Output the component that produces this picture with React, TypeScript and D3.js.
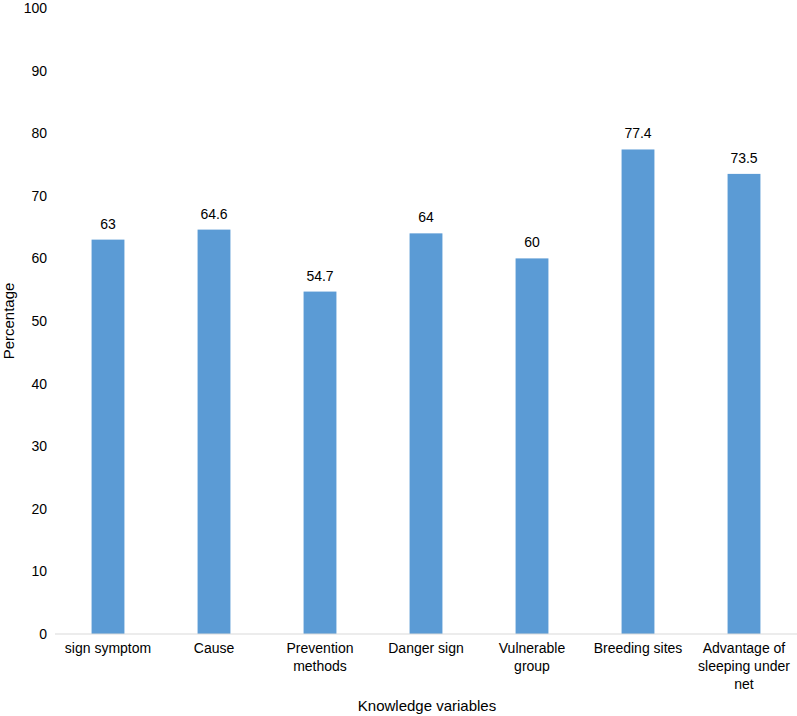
import React from "react";
import * as d3 from "d3";

const categories: string[][] = [
  ["sign symptom"],
  ["Cause"],
  ["Prevention", "methods"],
  ["Danger sign"],
  ["Vulnerable", "group"],
  ["Breeding sites"],
  ["Advantage of", "sleeping under", "net"],
];
const values: number[] = [63, 64.6, 54.7, 64, 60, 77.4, 73.5];
const yTicks: number[] = [0, 10, 20, 30, 40, 50, 60, 70, 80, 90, 100];

const W = 797;
const H = 716;
const FONT = "'Liberation Sans', Arial, sans-serif";

export default function App() {
  const x = d3
    .scaleBand<number>()
    .domain(values.map((_, i) => i))
    .range([55, 797])
    .paddingInner(0.69)
    .paddingOuter(0.345);
  const y = d3.scaleLinear().domain([0, 100]).range([634, 8]);

  return (
    <svg
      width={W}
      height={H}
      style={{ position: "absolute", left: 0, top: 0, background: "#fff" }}
      fontFamily={FONT}
    >
      {yTicks.map((t) => (
        <text
          key={t}
          x={47}
          y={y(t)}
          dy="0.35em"
          textAnchor="end"
          fontSize={14}
          fill="#000"
        >
          {t}
        </text>
      ))}
      {values.map((v, i) => (
        <rect
          key={i}
          x={x(i)}
          y={y(v)}
          width={x.bandwidth()}
          height={y(0) - y(v)}
          fill="#5B9BD5"
        />
      ))}
      {values.map((v, i) => (
        <text
          key={"v" + i}
          x={(x(i) as number) + x.bandwidth() / 2}
          y={y(v) - 11}
          textAnchor="middle"
          fontSize={14}
          fill="#000"
        >
          {v}
        </text>
      ))}
      <line x1={55} x2={797} y1={y(0)} y2={y(0)} stroke="#d9d9d9" strokeWidth={1} />
      {categories.map((lines, i) => (
        <text
          key={"c" + i}
          x={(x(i) as number) + x.bandwidth() / 2}
          y={653}
          textAnchor="middle"
          fontSize={14}
          fill="#000"
        >
          {lines.map((l, j) => (
            <tspan key={j} x={(x(i) as number) + x.bandwidth() / 2} dy={j === 0 ? 0 : 18}>
              {l}
            </tspan>
          ))}
        </text>
      ))}
      <text x={427} y={711} textAnchor="middle" fontSize={15} fill="#000">
        Knowledge variables
      </text>
      <text
        transform={`translate(14,321) rotate(-90)`}
        textAnchor="middle"
        fontSize={15}
        fill="#000"
      >
        Percentage
      </text>
    </svg>
  );
}
